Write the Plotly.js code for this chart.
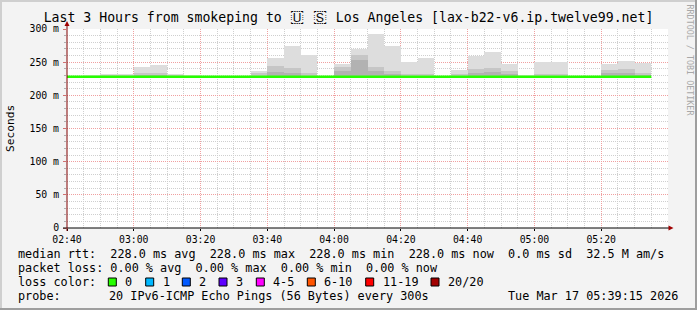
<!DOCTYPE html>
<html><head><meta charset="utf-8">
<script src="https://cdn.plot.ly/plotly-3.0.1.min.js"></script>
<style>html,body{margin:0;padding:0;background:#f3f3f3;}#chart{width:697px;height:310px;}</style>
</head><body><div id="chart"></div>
<script>
// ---- data ----
const slotStart = [
"2026-03-17 02:40","2026-03-17 02:45","2026-03-17 02:50","2026-03-17 02:55",
"2026-03-17 03:00","2026-03-17 03:05","2026-03-17 03:10","2026-03-17 03:15",
"2026-03-17 03:20","2026-03-17 03:25","2026-03-17 03:30","2026-03-17 03:35",
"2026-03-17 03:40","2026-03-17 03:45","2026-03-17 03:50","2026-03-17 03:55",
"2026-03-17 04:00","2026-03-17 04:05","2026-03-17 04:10","2026-03-17 04:15",
"2026-03-17 04:20","2026-03-17 04:25","2026-03-17 04:30","2026-03-17 04:35",
"2026-03-17 04:40","2026-03-17 04:45","2026-03-17 04:50","2026-03-17 04:55",
"2026-03-17 05:00","2026-03-17 05:05","2026-03-17 05:10","2026-03-17 05:15",
"2026-03-17 05:20","2026-03-17 05:25","2026-03-17 05:30"];
const smokeMin = [227.5,227.5,227.5,227.5,227.5,227.5,227.5,227.5,227.5,227.5,227.5,227.5,
227.5,227.5,227.5,227.5,227.5,227.5,227.5,227.5,227.5,227.5,227.5,227.5,
227.5,227.5,227.5,227.5,227.5,227.5,227.5,227.5,227.5,227.5,227.5];
const smokeTop = [null,231,232,232,242,245.7,232,230.6,null,null,null,236.7,
256.8,274.4,260.8,null,247,270,292.5,274.4,249.8,256.8,null,238.2,
259.8,265.3,247.7,230.6,249.8,249.8,null,null,246.7,251.7,249.2];
const smokeMid = [null,229.5,230,230,234,234,230,229.5,null,null,null,234,
244.2,241.7,233,null,242,261,243,237,232,232,null,232,
239.7,241.7,237,229.5,232,232,null,null,238,239.7,234];
const smokeLow = [null,null,null,null,231,231,null,null,null,null,null,null,
235,234,null,null,237,254,237,232,null,null,null,null,
234,235,232,null,null,null,null,null,233,234,231];
const medianTimes = [
"2026-03-17 02:40","2026-03-17 02:45","2026-03-17 02:50","2026-03-17 02:55",
"2026-03-17 03:00","2026-03-17 03:05","2026-03-17 03:10","2026-03-17 03:15",
"2026-03-17 03:20","2026-03-17 03:25","2026-03-17 03:30","2026-03-17 03:35",
"2026-03-17 03:40","2026-03-17 03:45","2026-03-17 03:50","2026-03-17 03:55",
"2026-03-17 04:00","2026-03-17 04:05","2026-03-17 04:10","2026-03-17 04:15",
"2026-03-17 04:20","2026-03-17 04:25","2026-03-17 04:30","2026-03-17 04:35",
"2026-03-17 04:40","2026-03-17 04:45","2026-03-17 04:50","2026-03-17 04:55",
"2026-03-17 05:00","2026-03-17 05:05","2026-03-17 05:10","2026-03-17 05:15",
"2026-03-17 05:20","2026-03-17 05:25","2026-03-17 05:30","2026-03-17 05:35"];
const medianRtt = [228,228,228,228,228,228,228,228,228,228,228,228,
228,228,228,228,228,228,228,228,228,228,228,228,
228,228,228,228,228,228,228,228,228,228,228,228];
const xTickVals = ["2026-03-17 02:40","2026-03-17 03:00","2026-03-17 03:20","2026-03-17 03:40",
"2026-03-17 04:00","2026-03-17 04:20","2026-03-17 04:40","2026-03-17 05:00","2026-03-17 05:20"];
const xTickText = ["02:40","03:00","03:20","03:40","04:00","04:20","04:40","05:00","05:20"];
const yTickVals = [0,50,100,150,200,250,300];
const yTickText = ["0","50 m","100 m","150 m","200 m","250 m","300 m"];
const lossLabels = ["0","1","2","3","4-5","6-10","11-19","20/20"];
const lossColors = ["#26ff00","#00b8ff","#0059ff","#5e00ff","#ff00fe","#ff5500","#ff0000","#a10000"];
const rttStatLabels = ["avg","max","min","now"];
const rttStatValues = ["228.0","228.0","228.0","228.0"];
const rttSd = "0.0";
const rttAms = "32.5 M";
const lossStatLabels = ["avg","max","min","now"];
const lossStatValues = ["0.00","0.00","0.00","0.00"];
const probeText = "20 IPv6-ICMP Echo Pings (56 Bytes) every 300s";
const stampText = "Tue Mar 17 05:39:15 2026";
const titleText = "Last 3 Hours from smokeping to <span style=\"font-size:16px;letter-spacing:9px\">\u{1F1FA}\u200C\u{1F1F8}</span>Los Angeles [lax-b22-v6.ip.twelve99.net]";

// ---- layout helpers ----
const W=697,H=310,PL=67,PR=668,PT=29,PB=228;
const px = x => (x-PL)/(PR-PL);
const py = y => (PB-y)/(PB-PT);
const MONO = "DejaVu Sans Mono";

function band(vals, color){
  return {type:'bar', x:slotStart,
    y: vals.map((v,i)=> v==null?null: v-smokeMin[i]),
    base: smokeMin, width:300000, offset:0,
    marker:{color:color, line:{width:0}}, hoverinfo:'skip', showlegend:false};
}
const traces = [
  band(smokeTop,'#dddddd'),
  band(smokeMid,'#c6c6c6'),
  band(smokeLow,'#b2b2b2'),
  {type:'scatter', mode:'lines', x:medianTimes, y:medianRtt, line:{color:lossColors[0], width:2.5, shape:'hv'},
   hoverinfo:'skip', showlegend:false}
];

const shapes = [
  {type:'rect', xref:'paper', yref:'paper', x0:px(0), x1:px(W), y0:py(0), y1:py(H), line:{width:0}, fillcolor:'#f3f3f3', layer:'below'},
  {type:'rect', xref:'paper', yref:'paper', x0:px(PL), x1:px(PR), y0:py(PB), y1:py(PT), line:{width:0}, fillcolor:'#ffffff', layer:'below'},
  {type:'line', xref:'paper', yref:'paper', x0:px(1), x1:px(1), y0:py(0), y1:py(H), line:{color:'#cfcfcf', width:2}},
  {type:'line', xref:'paper', yref:'paper', x0:px(0), x1:px(W), y0:py(1), y1:py(1), line:{color:'#cfcfcf', width:2}},
  {type:'line', xref:'paper', yref:'paper', x0:px(W-1), x1:px(W-1), y0:py(0), y1:py(H), line:{color:'#9e9e9e', width:2}},
  {type:'line', xref:'paper', yref:'paper', x0:px(0), x1:px(W), y0:py(H-1), y1:py(H-1), line:{color:'#9e9e9e', width:2}},
  {type:'line', xref:'paper', yref:'paper', x0:px(63), x1:px(669), y0:py(228), y1:py(228), line:{color:'#000000', width:1}},
  {type:'line', xref:'paper', yref:'paper', x0:px(67), x1:px(67), y0:py(231), y1:py(24), line:{color:'#800000', width:1}},
  {type:'path', xref:'paper', yref:'paper', path:`M ${px(668.5)} ${py(225.5)} L ${px(673.5)} ${py(228)} L ${px(668.5)} ${py(230.5)} Z`, fillcolor:'#a00000', line:{width:0}},
  {type:'path', xref:'paper', yref:'paper', path:`M ${px(64.5)} ${py(26)} L ${px(67)} ${py(21)} L ${px(69.5)} ${py(26)} Z`, fillcolor:'#a00000', line:{width:0}}
];
const annotations = [];
function txt(t, x, y, opts){
  annotations.push(Object.assign({xref:'paper', yref:'paper', x:px(x), y:py(y), text:t, showarrow:false,
    xanchor:'left', yanchor:'middle', font:{family:MONO, size:11.8, color:'#000'}}, opts||{}));
}
txt("Seconds", 10.5, 128.5, {textangle:-90, xanchor:'center', font:{family:MONO, size:11.2, color:'#000'}});
txt("RRDTOOL / TOBI OETIKER", 689.5, 60, {textangle:90, xanchor:'center', font:{family:MONO, size:8.4, color:'#a8a8a8'}});
let l1 = "median rtt:  ";
rttStatLabels.forEach((lab,i)=>{ l1 += rttStatValues[i] + " ms " + lab + "  "; });
l1 += rttSd + " ms sd  " + rttAms + " am/s";
txt(l1.replace(/ /g,'\u00a0'), 16, 254);
let l2 = "packet loss: ";
lossStatLabels.forEach((lab,i)=>{ l2 += lossStatValues[i] + " % " + lab + (i<3?"  ":""); });
txt(l2.replace(/ /g,'\u00a0'), 16, 268);
txt("loss color:", 16, 282);
const sqX = [108.3,145.7,182.3,219,256.3,307.3,365.7,431];
lossLabels.forEach((lab,i)=>{
  shapes.push({type:'rect', xref:'paper', yref:'paper', x0:px(sqX[i]), x1:px(sqX[i]+8), y0:py(286), y1:py(278),
    fillcolor:lossColors[i], line:{color:'#000', width:1}});
  txt(lab, sqX[i]+15, 282);
});
txt("probe:", 16, 296);
txt(probeText, 107.3, 296);
txt(stampText, 680, 296, {xanchor:'right'});

const gridMajor = '#f0a0a0', gridMinor = '#cfcfcf';
const layout = {
  width:W, height:H, margin:{l:PL, r:W-PR, t:PT, b:H-PB, pad:0},
  paper_bgcolor:'#f3f3f3', plot_bgcolor:'#ffffff',
  barmode:'overlay', bargap:0, showlegend:false,
  title:{text:titleText, xref:'container', yref:'container', x:0.5, xanchor:'center', y:(H-17.5)/H, yanchor:'middle',
    font:{family:MONO, size:13.2, color:'#000'}},
  xaxis:{type:'date', range:['2026-03-17 02:40','2026-03-17 05:40'], tickmode:'array', tickvals:xTickVals, ticktext:xTickText,
    showgrid:true, gridcolor:gridMajor, griddash:'1px,1px', gridwidth:1,
    minor:{tickmode:'linear', tick0:'2026-03-17 02:40', dtick:300000, showgrid:true, gridcolor:gridMinor, griddash:'1px,1px', gridwidth:1, ticks:''},
    ticks:'outside', ticklen:2, tickcolor:'#000', zeroline:false, showline:false,
    tickfont:{family:MONO, size:9.8, color:'#000'}, fixedrange:true},
  yaxis:{range:[0,300], tickmode:'array', tickvals:yTickVals, ticktext:yTickText,
    showgrid:true, gridcolor:gridMajor, griddash:'1px,1px', gridwidth:1,
    minor:{tickmode:'linear', tick0:0, dtick:10, showgrid:true, gridcolor:gridMinor, griddash:'1px,1px', gridwidth:1, ticks:'outside', ticklen:2, tickcolor:'#b0b0b0'},
    ticks:'outside', ticklen:3, tickcolor:'#d07070', zeroline:false, showline:false, ticklabelstandoff:2,
    tickfont:{family:MONO, size:9.8, color:'#000'}, fixedrange:true},
  shapes:shapes, annotations:annotations
};
Plotly.newPlot('chart', traces, layout, {displayModeBar:false, staticPlot:true});
</script>
</body></html>
